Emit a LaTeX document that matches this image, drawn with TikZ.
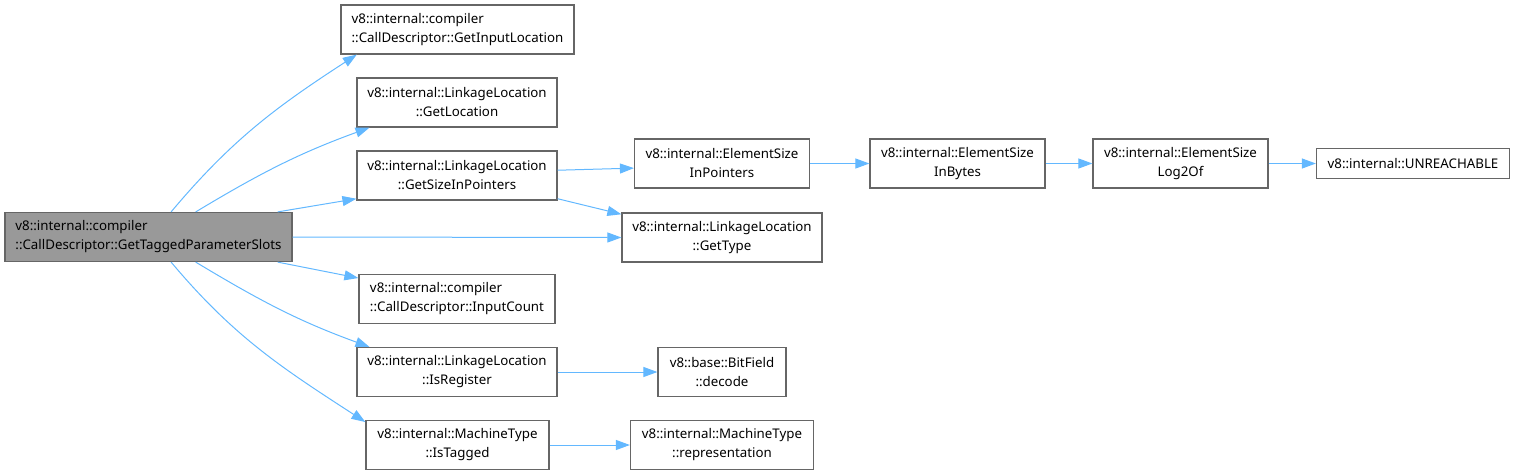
\documentclass[tikz,border=0pt]{standalone}
\usepackage{fontspec}
\setmainfont{Noto Sans}
\usetikzlibrary{arrows.meta}
\definecolor{dgEdge}{RGB}{99,184,255}
\definecolor{dgBorder}{RGB}{102,102,102}
\definecolor{dgRoot}{RGB}{153,153,153}
\tikzset{
  fnbox/.style={draw=dgBorder, fill=white, line width=1.2pt, align=center, inner sep=2pt,
                minimum height=49pt, font=\fontsize{13.3}{19}\selectfont},
  leftbox/.style={fnbox, align=left},
  rootbox/.style={leftbox, fill=dgRoot},
  call/.style={-{Triangle[length=14pt, width=10pt]}, line width=1pt, draw=dgEdge}
}

\begin{document}
\begin{tikzpicture}[x=1pt, y=-1pt]
\useasboundingbox (0,0) rectangle (1516,475);
\node[rootbox, minimum width=287pt] (slots) at (148.5,237) {v8::internal::compiler\\::CallDescriptor::GetTaggedParameterSlots};
\node[leftbox, minimum width=233pt] (inloc) at (457.5,29.5) {v8::internal::compiler\\::CallDescriptor::GetInputLocation};
\node[fnbox, minimum width=200pt] (getloc) at (457,102.5) {v8::internal::LinkageLocation\\::GetLocation};
\node[fnbox, minimum width=200pt] (sizeptr) at (457,175.5) {v8::internal::LinkageLocation\\::GetSizeInPointers};
\node[leftbox, minimum width=196pt] (inputcount) at (457,299) {v8::internal::compiler\\::CallDescriptor::InputCount};
\node[fnbox, minimum width=200pt] (isreg) at (457,372) {v8::internal::LinkageLocation\\::IsRegister};
\node[fnbox, minimum width=183pt] (istagged) at (457.5,445) {v8::internal::MachineType\\::IsTagged};
\node[fnbox, minimum width=175pt] (inptr) at (722,163.5) {v8::internal::ElementSize\\InPointers};
\node[fnbox, minimum width=200pt] (gettype) at (722,237.5) {v8::internal::LinkageLocation\\::GetType};
\node[fnbox, minimum width=128pt] (decode) at (722,372) {v8::base::BitField\\::decode};
\node[fnbox, minimum width=183pt] (repr) at (722,445) {v8::internal::MachineType\\::representation};
\node[fnbox, minimum width=175pt] (inbytes) at (957.5,163.5) {v8::internal::ElementSize\\InBytes};
\node[fnbox, minimum width=175pt] (log2of) at (1180.5,163.5) {v8::internal::ElementSize\\Log2Of};
\node[fnbox, minimum width=193pt, minimum height=30pt] (unreach) at (1413,163.5) {v8::internal::UNREACHABLE};
\draw[call] (slots.48) to[out=50, in=213] (inloc.194);
\draw[call] (slots.28) to[out=31, in=200] (getloc.196);
\draw[call] (slots.11) -- (sizeptr.193);
\draw[call] (slots.east) -- (gettype.west);
\draw[call] (slots.-11) -- (inputcount.168);
\draw[call] (slots.-28) to[out=-31, in=160] (isreg.164);
\draw[call] (slots.-48) to[out=-50, in=147] (istagged.166);
\draw[call] (sizeptr.3) -- (inptr.183);
\draw[call] (sizeptr.-13) -- (gettype.167);
\draw[call] (inptr) -- (inbytes);
\draw[call] (inbytes) -- (log2of);
\draw[call] (log2of) -- (unreach);
\draw[call] (isreg) -- (decode);
\draw[call] (istagged) -- (repr);
\end{tikzpicture}
\end{document}
